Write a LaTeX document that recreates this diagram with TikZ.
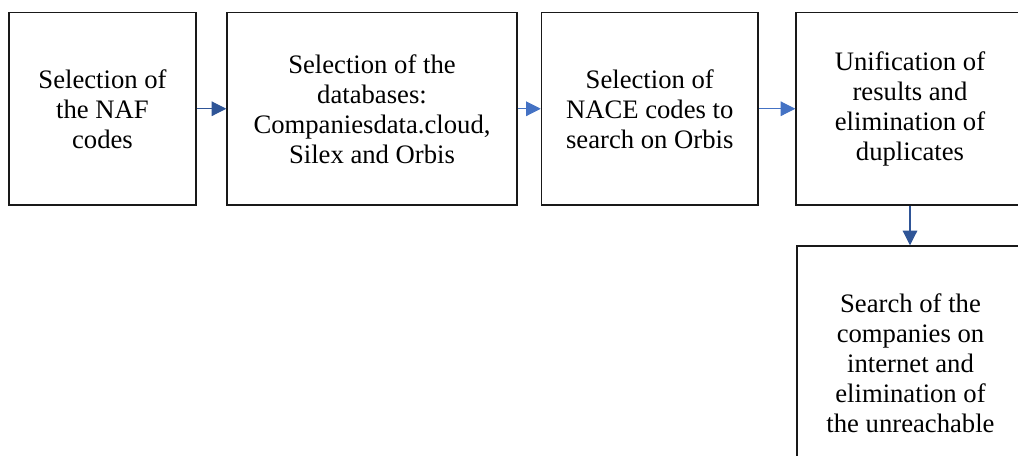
\documentclass[tikz,border=0pt]{standalone}
\usepackage{fontspec}
\setmainfont{Liberation Serif}
\usetikzlibrary{arrows.meta}
\definecolor{darkarrow}{RGB}{47,85,151}
\definecolor{lightarrow}{RGB}{68,114,196}

\begin{document}
\begin{tikzpicture}[x=0.75pt,y=-0.75pt,
  box/.style={draw=black!90,line width=1.1pt,inner sep=0pt,align=center,
    font=\fontsize{20}{22.5}\selectfont},
  link/.style={line width=0.8pt,-{Triangle[length=11pt,width=11pt]}}]
\useasboundingbox (0,0) rectangle (1018,455);
\clip (0,0) rectangle (1018,455);
\node[box,minimum width=140.25pt,minimum height=144.4pt](naf) at (102.5,108.75){Selection of\\the NAF\\codes};
\node[box,minimum width=217.5pt,minimum height=144.4pt](bases) at (372,108.75){Selection of the\\databases:\\Companiesdata.cloud,\\Silex and Orbis};
\node[box,minimum width=162.4pt,minimum height=144.4pt](nace) at (649.75,108.75){Selection of\\NACE codes to\\search on Orbis};
\node[box,minimum width=171pt,minimum height=144.4pt](unify) at (910,108.75){Unification of\\results and\\elimination of\\duplicates};
\node[box,minimum width=170.25pt,minimum height=175.5pt](search) at (910.5,363){Search of the\\companies on\\internet and\\elimination of\\the unreachable};
\draw[link,darkarrow] (naf) -- (bases);
\draw[link,lightarrow] (bases) -- (nace);
\draw[link,lightarrow] (nace) -- (unify);
\draw[link,darkarrow] (unify) -- (unify.south |- search.north);
\end{tikzpicture}
\end{document}
